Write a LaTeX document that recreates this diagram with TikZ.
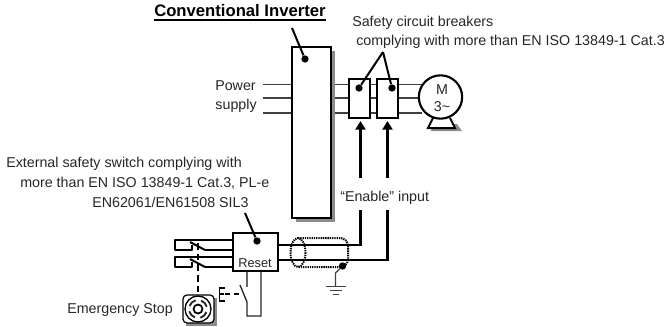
\documentclass[tikz,border=0pt]{standalone}
\usepackage{fontspec}
\setmainfont{Liberation Sans}
\usetikzlibrary{arrows.meta}
\tikzset{
  lab/.style={font=\fontsize{10.7}{12}\selectfont,inner sep=0pt,text=black!85},
  wirethin/.style={line width=0.9pt,draw=black!75},
  wirethick/.style={line width=2.2pt,draw=black},
  boxy/.style={line width=1.6pt,draw=black,fill=white,inner sep=0pt},
  shade/.style={fill=black!45,draw=none},
  pointer/.style={line width=1.5pt,draw=black},
  dot/.style={circle,fill=black,inner sep=0pt,minimum size=5.5pt},
  ctl/.style={line width=1.5pt,draw=black,line join=round},
  shield/.style={line width=1.5pt,draw=black,dash pattern=on 1pt off 0.7pt},
  gnd/.style={line width=0.9pt,draw=black!75},
}
\begin{document}
\begin{tikzpicture}[x=0.75pt,y=-0.75pt]
\useasboundingbox (0,0) rectangle (665,326);
% texts
\node[lab,font=\fontsize{12.5}{14}\selectfont\bfseries,anchor=west,text=black] (title) at (154,11) {Conventional Inverter};
\draw[line width=1.5pt] (title.west |- 0,20) -- (title.east |- 0,20);
\node[lab,anchor=west] (scb1) at (352,22.5) {Safety circuit breakers};
\node[lab,anchor=west] (scb2) at (356,42) {complying with more than EN ISO 13849-1 Cat.3};
\node[lab,anchor=east] (ps1) at (256,86) {Power};
\node[lab,anchor=east] (ps2) at (257,106) {supply};
\node[lab,anchor=west] (ext1) at (6,164) {External safety switch complying with};
\node[lab,anchor=west] (ext2) at (20,183) {more than EN ISO 13849-1 Cat.3, PL-e};
\node[lab,anchor=west] (ext3) at (92,202) {EN62061/EN61508 SIL3};
\node[lab,anchor=west] (es) at (67,310) {Emergency Stop};
% power lines
\coordinate (pl1) at (263,84.5);
\coordinate (pl2) at (263,98);
\coordinate (pl3) at (263,113);
\coordinate (pr1) at (422,84.5);
\coordinate (pr2) at (422,98);
\coordinate (pr3) at (422,113);
\draw[wirethin] (pl1) -- (pr1);
\draw[wirethin] (pl2) -- (pr2);
\draw[wirethin] (pl3) -- (pr3);
% inverter
\fill[shade] (296,51) rectangle (335,222);
\node[boxy,minimum width=29.25pt,minimum height=128.25pt] (inv) at (311.5,132.5) {};
\node[dot] (d1) at (305,59) {};
\coordinate (invptr) at (292,28);
\draw[pointer] (invptr) -- (d1);
% breakers
\node[boxy,minimum width=15.5pt,minimum height=29.25pt] (b1) at (359.5,98.5) {};
\node[boxy,minimum width=15.5pt,minimum height=29.25pt] (b2) at (387.5,98.5) {};
\node[dot] (d2) at (359,88) {};
\node[dot] (d3) at (392,88) {};
\coordinate (apex) at (383,52);
\draw[pointer] (apex) -- (d2);
\draw[pointer] (apex) -- (d3);
% motor
\fill[shade] (433,124) -- (457,124) -- (462,131) -- (431,131) -- cycle;
\draw[line width=1.5pt,fill=white] (433,118) -- (428,128) -- (455,128) -- (450,118);
\draw[line width=2.2pt] (428,128) -- (455,128);
\node[circle,line width=1.6pt,draw=black,fill=white,minimum size=32.5pt,inner sep=0pt] (motor) at (440.5,97) {};
\node[lab] (mm) at (442,90) {M};
\node[lab] (m3) at (442,107) {3\textasciitilde};
% reset box
\node[boxy,minimum width=33.75pt,minimum height=28.5pt] (reset) at (255.5,252) {};
\node[lab,font=\fontsize{9.6}{11}\selectfont] (rst) at (255,263.5) {Reset};
\node[dot] (d4) at (257,241) {};
\coordinate (rptr) at (245,213);
\draw[pointer] (rptr) -- (d4);
% enable wires
\draw[wirethick,-{Triangle[length=6.5pt,width=7.5pt]},shorten >=1.5pt] (reset.east |- 0,245) -| (360.5,119);
\draw[wirethick,-{Triangle[length=6.5pt,width=7.5pt]},shorten >=1.5pt] (reset.east |- 0,260) -| (387.5,119);
\fill[white] (336,178) rectangle (432,210);
\node[lab,anchor=west] (en) at (340,198) {``Enable'' input};
% shield
\draw[shield,rounded corners=6pt] (298,238) -- (348,238) -- (348,267) -- (298,267);
\draw[shield] (298,252.5) ellipse [x radius=7.5,y radius=14.5];
\node[dot,minimum size=5.5pt] (d5) at (342.5,266) {};
\coordinate (g1) at (335.5,273);
\coordinate (g2) at (335.5,286);
\coordinate (ga1) at (326,286.5);
\coordinate (ga2) at (346,286.5);
\coordinate (gb1) at (330,290.5);
\coordinate (gb2) at (342,290.5);
\coordinate (gc1) at (333,294.5);
\coordinate (gc2) at (339,294.5);
\draw[gnd] (d5) -- (g1) -- (g2);
\draw[gnd] (ga1) -- (ga2);
\draw[gnd] (gb1) -- (gb2);
\draw[gnd,line width=1.1pt] (gc1) -- (gc2);
% NO contacts on the left
\draw[ctl] (reset.west |- 0,240) -- (175,240) -- (175,250) -- (192,250) -- (192,245);
\draw[ctl] (190,242) -- (205,250);
\draw[ctl] (205,250) -- (reset.west |- 0,250);
\draw[ctl] (reset.west |- 0,257) -- (175,257) -- (175,267) -- (192,267) -- (192,262);
\draw[ctl] (190,259) -- (205,267);
\draw[ctl] (205,267) -- (reset.west |- 0,267);
% e-stop
\fill[shade] (186,298) rectangle (217,326);
\node[draw=black,line width=0.9pt,fill=white,rounded corners=3pt,minimum width=23.25pt,minimum height=21pt,inner sep=0pt] (stop) at (198.5,309) {};
\draw[line width=1pt] (198,309) circle [radius=13];
\draw[line width=1.3pt] (198,309) circle [radius=4.5];
\foreach \a in {20,110,200,290}{
  \draw[line width=1.4pt,black!85] (198,309) ++(\a:9) arc [start angle=\a,end angle=\a+55,radius=9];
}
\draw[line width=1.7pt,dash pattern=on 5pt off 3pt] (198,243) -- (stop.north -| 198,0);
% reset contact
\coordinate (c1) at (261,316);
\coordinate (c2) at (247,316);
\coordinate (c3) at (247,302);
\coordinate (c4) at (240,285);
\coordinate (c5) at (247,287);
\draw[line width=1pt,black!85] (reset.south -| 261,0) -- (c1) -- (c2) -- (c3) -- (c4);
\draw[line width=1pt,black!60] (reset.south -| 247,0) -- (c5);
\draw[line width=1.2pt,dash pattern=on 4pt off 2.5pt] (225,294) -- (242,294);
\draw[line width=1pt] (225,288) -- (219.5,288) -- (219.5,301) -- (225,301);
\draw[line width=1pt] (219.5,294) -- (224,294);
\end{tikzpicture}
\end{document}
